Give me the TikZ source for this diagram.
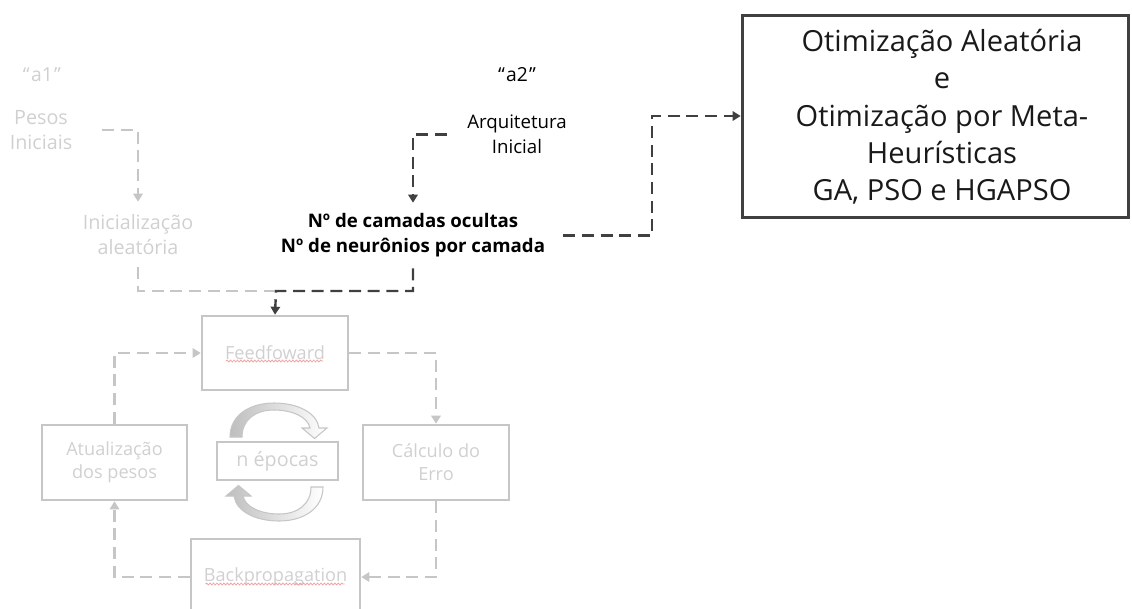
\documentclass[tikz,border=0pt]{standalone}
\usepackage{fontspec}
\setmainfont{Open Sans}
\usetikzlibrary{arrows.meta,decorations.pathmorphing,calc}

\definecolor{fadedtext}{HTML}{D0D0D0}
\definecolor{fadedline}{HTML}{C6C6C6}
\definecolor{darkline}{HTML}{404040}
\definecolor{spellred}{HTML}{F2A3A3}
\definecolor{arrowfill}{HTML}{BEBEBE}

\tikzset{
  lbl/.style={align=center, inner sep=0pt, font=\fontsize{14}{18.75}\selectfont},
  ghost/.style={lbl, text=fadedtext},
  dashlink/.style={line width=1.8pt, dash pattern=on 9pt off 5pt,
                   -{Triangle[length=6pt,width=7pt]}},
  darklink/.style={dashlink, draw=darkline},
  palelink/.style={dashlink, draw=fadedline},
  stepbox/.style={ghost, draw=fadedline, line width=1.9pt,
                  font=\fontsize{13.6}{17.25}\selectfont},
  loopline/.style={draw=fadedline, line width=0.8pt},
  spell/.style={draw=spellred, line width=0.6pt, decorate,
                decoration={snake, amplitude=0.7pt, segment length=2.6pt}},
}

% curved arrow running clockwise over the top of the epoch counter
\newcommand{\epochturn}{%
  (230,437) .. controls (230,415) and (250,403) .. (274,403)
  .. controls (298,403) and (317,413) .. (319,428)
  -- (327,428) -- (314.5,438.5) -- (302,428) -- (310,428)
  .. controls (308,417) and (292,410) .. (274,410)
  .. controls (255,410) and (242,420) .. (242,437) -- cycle}

\begin{document}
\begin{tikzpicture}[x=0.75pt, y=-0.75pt]
\useasboundingbox (0,0) rectangle (1132,608);
\clip (0,0) rectangle (1132,608);

% --- weights branch (faded) ---
\node[ghost, font=\fontsize{14.5}{18.75}\selectfont] (a1) at (42,75) {“\kern1pt a1\kern1pt”};
\node[ghost, font=\fontsize{14.8}{18.75}\selectfont, minimum width=91.5pt] (pesos) at (41,130) {Pesos\\Iniciais};
\node[ghost, font=\fontsize{14.8}{18.75}\selectfont, minimum height=48.75pt] (init) at (138,234.5) {Inicialização\\aleatória};

% --- architecture branch ---
\node[lbl, font=\fontsize{14.5}{18.75}\selectfont] (a2) at (517,75) {“\kern1pt a2\kern1pt”};
\node[lbl, minimum width=105pt] (arq) at (517,134.5) {Arquitetura\\Inicial};
\node[lbl, font=\fontsize{14}{18.75}\selectfont\bfseries, minimum width=225pt,
      minimum height=48.75pt] (layers) at (413,235.5)
      {Nº de camadas ocultas\\Nº de neurônios por camada};

% --- optimisation box and its text ---
\node[draw=darkline, line width=2.25pt, minimum width=290pt, minimum height=151.5pt,
      inner sep=0pt] (big) at (935.5,116) {};
\node[align=center, inner sep=0pt, text=black!90,
      font=\fontsize{21.8}{28}\selectfont] (bigtext) at ($(big.center)+(6.5,1)$)
      {Otimização Aleatória\\e\\Otimização por Meta-\\Heurísticas\\GA, PSO e HGAPSO};

% --- training loop ---
\node[stepbox, minimum width=109.5pt, minimum height=55.5pt] (ff) at (275,353) {Feedfoward};
\node[stepbox, minimum width=108.75pt, minimum height=56.25pt] (atual) at (114.5,462.5) {Atualização\\dos pesos};
\node[stepbox, minimum width=109.5pt, minimum height=56.25pt] (calc) at (436,462.5) {Cálculo do\\Erro};
\node[stepbox, minimum width=126.75pt, minimum height=57pt] (back) at (275.5,577) {Backpropagation};
\node[ghost, font=\fontsize{14.8}{18}\selectfont, draw=fadedline, line width=0.8pt,
      minimum width=90.75pt, minimum height=28.5pt] (epocas) at (277.5,461) {n épocas};

% spell-check underlines
\draw[spell] ($(ff.center)+(-49,8)$) -- ($(ff.center)+(48,8)$);
\draw[spell] ($(back.center)+(-70,7)$) -- ($(back.center)+(69,7)$);

% circular arrows around the epoch counter
\path[loopline, left color=arrowfill, right color=white] \epochturn;
\begin{scope}[rotate around={180:(276.5,462)}]
  \path[loopline, left color=arrowfill, right color=white] \epochturn;
\end{scope}

% --- connectors ---
\coordinate (join) at (276,291);
\draw[palelink] (pesos.east) -| (init.north);
\draw[palelink, -] (init.south) |- (join);
\draw[darklink] (arq.west) -| (layers.north);
\draw[darklink] (layers.south) |- (join) -- (ff.north);
\draw[darklink] (layers.east) -- ++(89,0) |- (big.west);

\draw[palelink] (atual.north) |- (ff.west);
\draw[palelink] (ff.east) -| (calc.north);
\draw[palelink] (calc.south) |- (back.east);
\draw[palelink] (back.west) -| (atual.south);
\end{tikzpicture}
\end{document}
